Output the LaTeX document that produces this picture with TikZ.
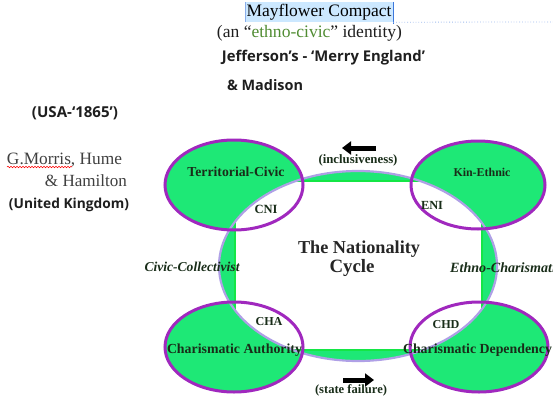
\documentclass[tikz,border=0pt]{standalone}
\usepackage{fontspec}
\setmainfont{Liberation Serif}
\newfontfamily\segoe{Open Sans}
\usetikzlibrary{arrows.meta,decorations.pathmorphing}
\definecolor{cgreen}{RGB}{30,232,118}
\definecolor{lgreen}{RGB}{20,230,70}
\definecolor{purp}{RGB}{160,40,190}
\definecolor{lav}{RGB}{175,160,230}
\definecolor{labeltxt}{RGB}{25,45,25}
\definecolor{ecgreen}{RGB}{80,140,50}
\definecolor{hl}{RGB}{204,232,255}
\definecolor{cblue}{RGB}{60,120,220}
\definecolor{hdr}{RGB}{30,30,30}
\newcommand{\fw}[2]{\resizebox{#1pt}{!}{#2}}
\begin{document}
\begin{tikzpicture}[x=1pt,y=-1pt,
  lbl/.style={inner sep=0pt, text=labeltxt, font=\bfseries},
  hdrtxt/.style={inner sep=0pt, text=hdr},
  bigarrow/.style={line width=5pt, -{Triangle[length=9pt,width=13pt]}},
  circ/.style={purp, line width=3pt},
]
\useasboundingbox (0,0) rectangle (553,396);
% circle fills
\fill[cgreen] (234,185) ellipse [x radius=69pt, y radius=45pt];
\fill[cgreen] (478,185) ellipse [x radius=67pt, y radius=44pt];
\fill[cgreen] (234,347) ellipse [x radius=69pt, y radius=45pt];
\fill[cgreen] (479,347) ellipse [x radius=69pt, y radius=45pt];
% big ellipse band
\fill[cgreen] (358,266) ellipse [x radius=139pt, y radius=95pt];
\begin{scope}
  \clip (358,266) ellipse [x radius=139pt, y radius=95pt];
  \fill[white] (235,181) rectangle (482,350);
  \draw[lgreen, line width=2pt] (235,181) rectangle (482,350);
\end{scope}
\draw[lav, line width=2.2pt] (358,266) ellipse [x radius=139pt, y radius=95pt];
% circle outlines
\draw[circ] (234,185) ellipse [x radius=69pt, y radius=45pt];
\draw[circ] (478,185) ellipse [x radius=67pt, y radius=44pt];
\draw[circ] (234,347) ellipse [x radius=69pt, y radius=45pt];
\draw[circ] (479,347) ellipse [x radius=69pt, y radius=45pt];

% header
\node[fill=hl, minimum width=148pt, minimum height=20pt, inner sep=0pt] (mf) at (319,12) {\fw{145}{Mayflower Compact}};
\coordinate (dotend) at (553,22);
\draw[cblue, line width=0.8pt] (mf.north east) -- ([yshift=-2pt]mf.south east);
\draw[cblue!60, line width=0.5pt] (mf.north west) -- (mf.south west);
\draw[cblue!50, dotted, line width=0.8pt] (mf.south east) -- (dotend);
\node[hdrtxt] (eth) at (309.5,33) {\fw{185}{(an “\textcolor{ecgreen}{ethno-civic}” identity)}};
\node[hdrtxt] (jef) at (323.5,58) {\fw{203}{\segoe\bfseries Jefferson’s - ‘Merry England’}};
\node[hdrtxt] (mad) at (265,85) {\fw{76}{\segoe\bfseries \& Madison}};
\node[hdrtxt] (usa) at (75,113) {\fw{86}{\segoe\bfseries (USA-‘1865’)}};
\node[hdrtxt, text=black!75] (gm) at (64.5,160) {\fw{115}{G.Morris, Hume}};
\coordinate (wv1) at (7,167);
\coordinate (wv2) at (72,167);
\draw[red, line width=0.5pt, decorate, decoration={snake, amplitude=0.8pt, segment length=3pt}] (wv1) -- (wv2);
\node[hdrtxt, text=black!75] (ham) at (86,181) {\fw{82}{\& Hamilton}};
\node[hdrtxt] (uk) at (69,205) {\fw{120}{\segoe\bfseries (United Kingdom)}};

% circle labels
\node[lbl] (tc) at (236,172) {\fw{97}{Territorial-Civic}};
\node[lbl] (ke) at (482,172) {\fw{57}{Kin-Ethnic}};
\node[lbl] (ca) at (234.5,350) {\fw{135}{Charismatic Authority}};
\node[lbl] (cd) at (477.5,350) {\fw{149}{Charismatic Dependency}};
\node[lbl] (cni) at (266,209) {\fw{23}{CNI}};
\node[lbl] (eni) at (432,205) {\fw{22}{ENI}};
\node[lbl] (cha) at (269,322) {\fw{27}{CHA}};
\node[lbl] (chd) at (446,325) {\fw{27}{CHD}};
\node[lbl, text=black!85] (nat) at (359,249) {\fw{122}{The Nationality}};
\node[lbl, text=black!85] (cyc) at (352,268) {\fw{45}{Cycle}};
\node[lbl, font=\bfseries\itshape] (cc) at (192,267) {\fw{95}{Civic-Collectivist}};
\node[lbl, font=\bfseries\itshape, anchor=west] (ec) at (450,268) {\fw{112}{Ethno-Charismatic}};
\node[lbl] (inc) at (358,160) {\fw{79}{(inclusiveness)}};
\node[lbl] (sf) at (351,390) {\fw{72}{(state failure)}};
% arrows
\coordinate (al1) at (376,148);
\coordinate (al2) at (342,148);
\draw[bigarrow] (al1) -- (al2);
\coordinate (ar1) at (343,380);
\coordinate (ar2) at (374,380);
\draw[bigarrow] (ar1) -- (ar2);
\end{tikzpicture}
\end{document}
